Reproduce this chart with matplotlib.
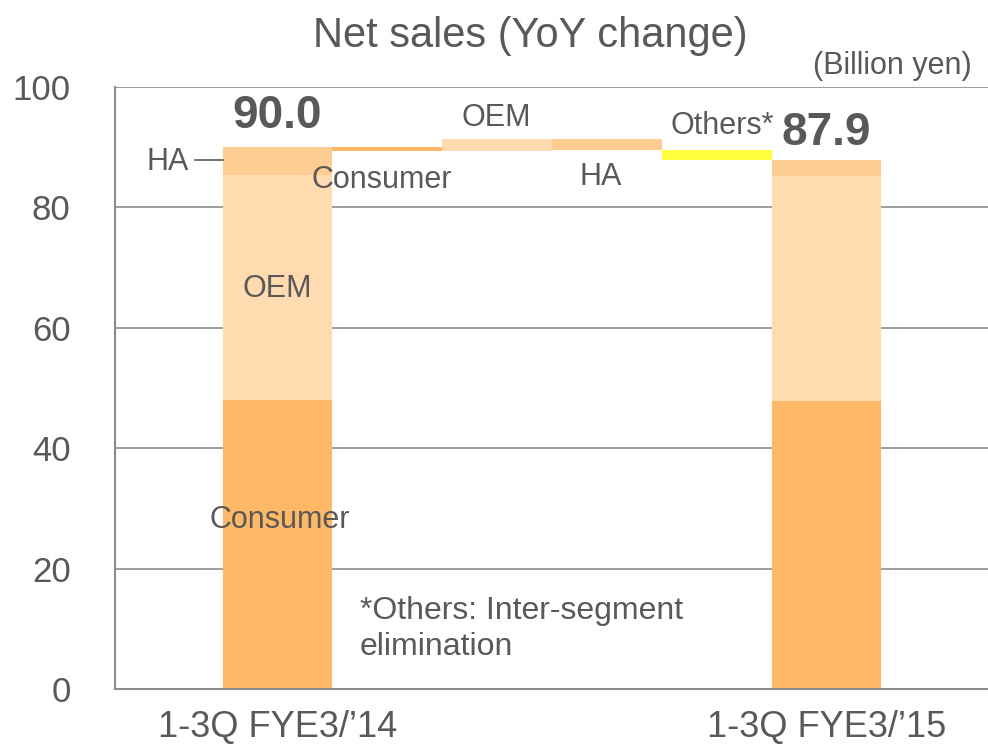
import matplotlib.pyplot as plt
import numpy as np

plt.rcParams['font.family'] = ['Liberation Sans', 'DejaVu Sans']

# segment breakdown of the two totals
periods = ['1-3Q FYE3/\u201914', '1-3Q FYE3/\u201915']
consumer = [48.0, 47.8]
oem = [37.4, 37.4]
ha = [4.6, 2.7]
totals = [90.0, 87.9]

# YoY change by segment
steps = ['Consumer', 'OEM', 'HA', 'Others*']
deltas = [-0.6, 2.0, -1.9, -1.6]

c_cons = '#FFB865'
c_oem = '#FFDBAF'
c_ha = '#FFCD92'
c_oth = '#FFFF3C'
txt = '#595959'

fig = plt.figure(figsize=(9.88, 7.5), dpi=100)
ax = fig.add_axes([0.1164, 0.0813, 0.8836, 0.8027])

# stacked total bars at positions 0 and 5
xs = [0, 5]
ax.bar(xs, consumer, width=1.0, color=c_cons, zorder=2)
ax.bar(xs, oem, width=1.0, bottom=consumer, color=c_oem, zorder=2)
ax.bar(xs, ha, width=1.0, bottom=np.add(consumer, oem), color=c_ha, zorder=2)

# floating change bars
level = totals[0]
cols = [c_cons, c_oem, c_ha, c_oth]
for i, d in enumerate(deltas):
    ax.bar(i + 1, abs(d), width=1.0, bottom=min(level, level + d), color=cols[i], zorder=2)
    level += d

ax.set_xlim(-1.48, 6.47)
ax.set_ylim(0, 100)
ax.set_yticks([0, 20, 40, 60, 80, 100])
ax.yaxis.grid(True, color='#8c8c8c', linewidth=1.2, zorder=0)
ax.set_axisbelow(True)
ax.set_xticks(xs)
ax.set_xticklabels(periods)
ax.tick_params(axis='y', labelsize=25, colors=txt, length=0, pad=32)
ax.tick_params(axis='x', labelsize=26, colors=txt, length=0, pad=15)
for s in ['top', 'right']:
    ax.spines[s].set_visible(False)
for s in ['left', 'bottom']:
    ax.spines[s].set_color('#8c8c8c')
    ax.spines[s].set_linewidth(1.5)

# value labels
ax.text(0, totals[0] + 1.5, f'{totals[0]:.1f}', ha='center', va='bottom',
        fontsize=33, fontweight='bold', color=txt)
ax.text(5, totals[1] + 0.8, f'{totals[1]:.1f}', ha='center', va='bottom',
        fontsize=33, fontweight='bold', color=txt)

# segment labels inside first bar
ax.text(0, 66.5, 'OEM', ha='center', va='center', fontsize=22, color=txt)
ax.text(0.02, 28.0, 'Consumer', ha='center', va='center', fontsize=22, color=txt)
ax.text(-1.0, 87.5, 'HA', ha='center', va='center', fontsize=22, color=txt)
ax.plot([-0.75, -0.5], [87.8, 87.8], color=txt, linewidth=1.2, zorder=3)

# change labels
ax.text(0.95, 84.6, 'Consumer', ha='center', va='center', fontsize=22, color=txt)
ax.text(1.99, 94.8, 'OEM', ha='center', va='center', fontsize=22, color=txt)
ax.text(2.94, 85.0, 'HA', ha='center', va='center', fontsize=22, color=txt)
ax.text(4.05, 93.5, 'Others*', ha='center', va='center', fontsize=22, color=txt)

ax.text(0.75, 10.0, '*Others: Inter-segment\nelimination', ha='left', va='center',
        fontsize=23, color=txt, linespacing=1.25)

fig.text(0.903, 0.912, '(Billion yen)', ha='center', va='center', fontsize=22, color=txt)
fig.text(0.537, 0.952, 'Net sales (YoY change)', ha='center', va='center', fontsize=30, color=txt)

fig.savefig('out.png', dpi=100)
